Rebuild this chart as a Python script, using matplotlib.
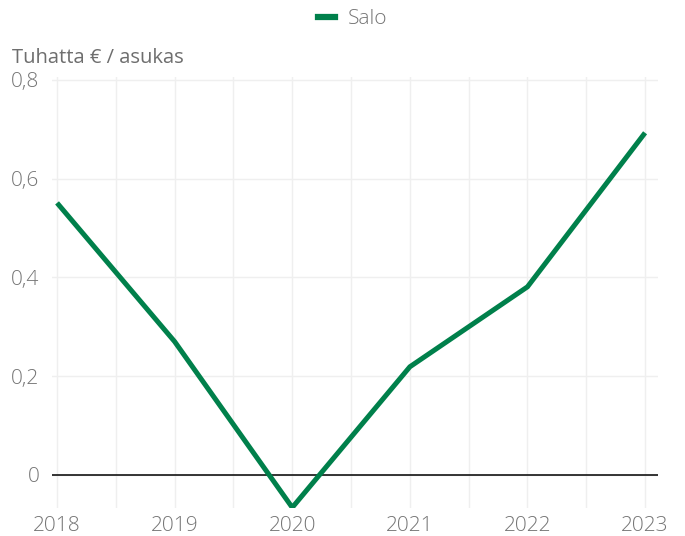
import matplotlib.pyplot as plt
from matplotlib import rcParams
from matplotlib.lines import Line2D

rcParams['font.family'] = ['Open Sans', 'DejaVu Sans']
rcParams['font.weight'] = 'light'

years = [2018, 2019, 2020, 2021, 2022, 2023]
salo = [0.551, 0.270, -0.066, 0.219, 0.381, 0.693]
yticks = [0, 0.2, 0.4, 0.6, 0.8]
ytick_labels = ['0', '0,2', '0,4', '0,6', '0,8']

text_color = '#757575'
grid_color = '#efefef'
line_color = '#00804b'

fig = plt.figure(figsize=(6.85, 5.36), dpi=100)
ax = fig.add_axes([52 / 685, 1 - 508 / 536, 606 / 685, (508 - 77) / 536])

ax.plot(years, salo, color=line_color, linewidth=3.6, solid_capstyle='butt',
        solid_joinstyle='miter', clip_on=True, zorder=3)
ax.axhline(0, color='black', linewidth=1.1, zorder=2)

ax.set_xlim(2017.957, 2023.11)
ax.set_ylim(-0.067, 0.806)

ax.set_xticks(years)
ax.set_xticks([y + 0.5 for y in years[:-1]], minor=True)
ax.set_yticks(yticks)
ax.set_yticklabels(ytick_labels)
ax.grid(True, which='both', axis='x', color=grid_color, linewidth=1)
ax.grid(True, which='major', axis='y', color=grid_color, linewidth=1)
ax.tick_params(which='both', length=0, labelsize=15, labelcolor=text_color)
ax.tick_params(axis='x', pad=6)
ax.tick_params(axis='y', pad=9)
for s in ax.spines.values():
    s.set_visible(False)

# y-akselin otsikko vasempaan yläkulmaan
fig.text(12 / 685, 1 - 58 / 536, 'Tuhatta € / asukas', fontsize=14.5,
         fontweight='normal', color='#6e6e6e', ha='left', va='center')

handle = Line2D([0], [0], color=line_color, linewidth=4.5)
fig.legend([handle], ['Salo'], loc='center', bbox_to_anchor=(0.515, 1 - 19 / 536),
           frameon=False, fontsize=15, labelcolor=text_color,
           handlelength=0.8, handletextpad=0.6)

fig.savefig('out.png', dpi=100)
